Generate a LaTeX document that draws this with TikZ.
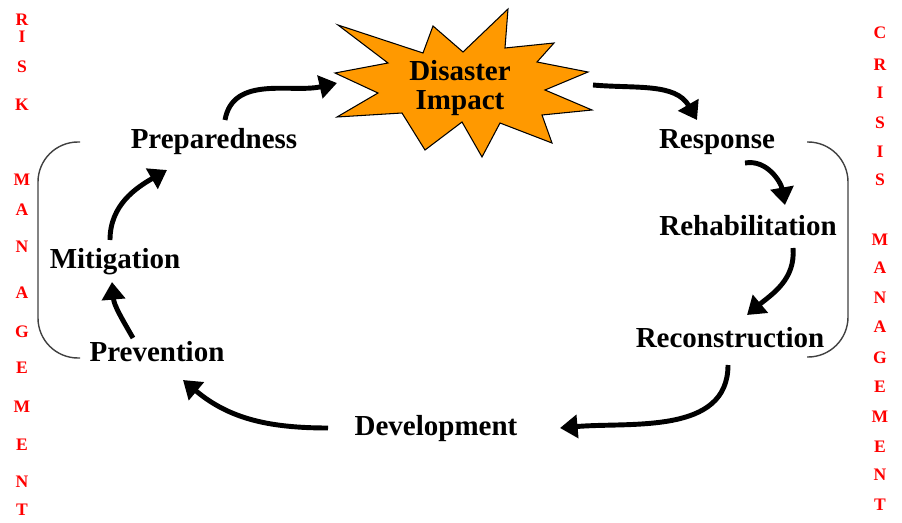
\documentclass[tikz,border=0pt]{standalone}
\usepackage{fontspec}
\setmainfont{Liberation Serif}
\usepackage{tikz}
\usetikzlibrary{calc}
\usetikzlibrary{arrows.meta}

\definecolor{burst}{RGB}{255,153,0}

\begin{document}
\begin{tikzpicture}[scale = 1]

\tikzstyle{stage}=[font = \fontsize{16.5}{17}\selectfont\bfseries, inner sep = 1pt]
\tikzstyle{flow}=[-{Triangle[length = 10pt, width = 13pt]}, line width = 2.8pt, color = black]
\tikzstyle{side_letter}=[font = \fontsize{10}{10}\selectfont\bfseries, text = red, inner sep = 0pt]
\tikzstyle{brace_line}=[draw = black!75, line width = 0.8pt, rounded corners = 0.8cm]

\useasboundingbox (0, 0) rectangle (18.04, 10.44);

% the burst
\draw[fill = burst, line width = 0.6pt]
  (6.76, 9.94) -- (8.46, 9.38) -- (8.66, 9.92) -- (9.26, 9.40) -- (10.16, 10.26)
  -- (10.10, 9.48) -- (11.08, 9.58) -- (10.74, 9.20) -- (11.76, 9.00) -- (10.90, 8.64)
  -- (11.84, 8.24) -- (10.84, 8.14) -- (11.04, 7.58) -- (10.00, 7.98) -- (9.64, 7.30)
  -- (9.24, 8.00) -- (8.50, 7.44) -- (8.04, 8.18) -- (6.74, 8.10) -- (7.56, 8.58)
  -- (6.70, 8.98) -- (7.76, 9.18) -- cycle;

\path
(9.20, 8.68) node[stage, align = center](impact) {Disaster\\Impact}
(4.28, 7.60) node[stage](prep) {Preparedness}
(14.34, 7.60) node[stage](resp) {Response}
(14.96, 5.92) node[stage](rehab) {Rehabilitation}
(14.60, 3.68) node[stage](recon) {Reconstruction}
(8.72, 1.86) node[stage](dev) {Development}
(3.14, 3.40) node[stage](prev) {Prevention}
(2.30, 5.20) node[stage](mitig) {Mitigation};

% side words
\foreach \ch/\yy [count = \i] in {R/10.04, I/9.70, S/9.10, K/8.34, M/6.84, A/6.24, N/5.50,
    A/4.58, G/3.80, E/3.08, M/2.30, E/1.54, N/0.80, T/0.24}
  \node[side_letter] (risk\i) at (0.44, \yy) {\ch};
\foreach \ch/\yy [count = \i] in {C/9.78, R/9.14, I/8.58, S/7.98, I/7.40, S/6.84, M/5.64, A/5.08,
    N/4.48, A/3.90, G/3.28, E/2.70, M/2.10, E/1.50, N/0.94, T/0.34}
  \node[side_letter] (crisis\i) at (17.60, \yy) {\ch};

% brackets
\draw[brace_line] (1.60, 7.60) -- (0.76, 7.60) -- (0.76, 3.28) -- (1.60, 3.28);
\draw[brace_line] (16.14, 7.60) -- (16.96, 7.60) -- (16.96, 3.30) -- (16.14, 3.30);

% cycle arrows
\draw[flow] ($(prep) + (0.22, 0.44)$) to [out = 80, in = 193] ($(impact) + (-2.46, 0.10)$);
\draw[flow] ($(impact) + (2.66, 0.06)$) to [out = -5, in = 120] ($(resp) + (-0.40, 0.44)$);
\draw[flow] ($(resp) + (0.56, -0.42)$) to [out = 10, in = 100] ($(rehab) + (0.74, 0.42)$);
\draw[flow] ($(rehab) + (0.90, -0.44)$) to [out = -85, in = 40] ($(recon) + (0.34, 0.46)$);
\draw[flow] ($(recon) + (-0.04, -0.54)$) to [out = -90, in = 5] ($(dev) + (2.48, 0.02)$);
\draw[flow] ($(dev) + (-2.16, 0.02)$) to [out = 180, in = -40] ($(prev) + (0.52, -0.56)$);
\draw[flow] ($(prev) + (-0.48, 0.28)$) to [out = 120, in = -85] ($(mitig) + (-0.06, -0.40)$);
\draw[flow] ($(mitig) + (-0.10, 0.44)$) to [out = 90, in = 210] ($(prep) + (-0.94, -0.56)$);

\end{tikzpicture}
\end{document}
